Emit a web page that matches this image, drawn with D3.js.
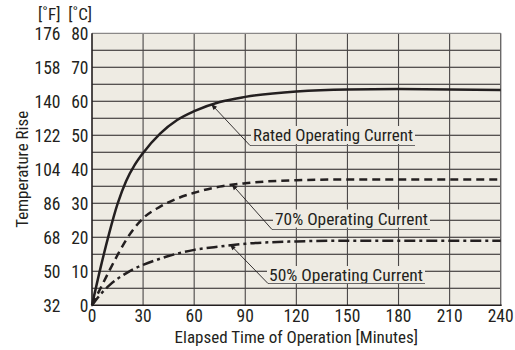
<!DOCTYPE html>
<html><head><meta charset="utf-8">
<script src="https://cdn.jsdelivr.net/npm/d3@7"></script>
<style>
html,body{margin:0;padding:0;background:#fff;}
svg text{font-family:"Liberation Sans Narrow","Arial Narrow","Roboto Condensed",sans-serif;fill:#231f20;}
</style></head>
<body><svg id="c" width="515" height="350"></svg>
<script>
// ---- data ----
const minutes = [0,5,10,15,20,25,30,40,50,60,75,90,120,150,180,210,240];
const rated   = [0,11,21,29.8,36.5,41.2,44.8,50.5,54.5,57.1,59.8,61.3,62.9,63.5,63.6,63.5,63.3];
const pct70   = [0,5,10,14.8,19.2,22.8,25.6,29,31.4,33.1,34.9,35.9,36.8,37,37,37,37];
const pct50   = [0,3.2,5.8,7.8,9.4,10.8,11.9,13.7,15.2,16.3,17.3,18.1,18.8,19,19,19,19];
const xTicks  = [0,30,60,90,120,150,180,210,240];
const cTicks  = [0,10,20,30,40,50,60,70,80];
const fTicks  = ["32","50","68","86","104","122","140","158","176"];
const labels  = ["Rated Operating Current","70% Operating Current","50% Operating Current"];
const arrowAt = [70,82,81]; // minutes where each callout arrow touches its curve

const svg = d3.select("#c");
const x = d3.scaleLinear().domain([0,240]).range([92,500.7]);
const y = d3.scaleLinear().domain([0,80]).range([305.3,33.3]);
const bg = "#eeebe3";

svg.append("rect").attr("x",x(0)).attr("y",y(80)).attr("width",x(240)-x(0)).attr("height",y(0)-y(80)).attr("fill",bg);

// horizontal grid every 5 C
const hg = d3.range(5,80,5);
svg.append("g").selectAll("line").data(hg).join("line")
  .attr("x1",x(0)).attr("x2",x(240)).attr("y1",d=>y(d)).attr("y2",d=>y(d))
  .attr("stroke","#231f20").attr("stroke-width",1.1);
// vertical grid
svg.append("g").selectAll("line").data(xTicks.slice(1,-1)).join("line")
  .attr("x1",d=>x(d)).attr("x2",d=>x(d)).attr("y1",y(0)).attr("y2",y(80))
  .attr("stroke","#4a4747").attr("stroke-width",1.1);
// border
svg.append("line").attr("x1",x(0)).attr("x2",x(240)).attr("y1",y(80)).attr("y2",y(80)).attr("stroke","#8a8888").attr("stroke-width",1.2);
svg.append("line").attr("x1",x(240)).attr("x2",x(240)).attr("y1",y(0)).attr("y2",y(80)).attr("stroke","#6a6868").attr("stroke-width",1.4);
svg.append("line").attr("x1",x(0)).attr("x2",x(0)).attr("y1",y(0)+1).attr("y2",y(80)).attr("stroke","#231f20").attr("stroke-width",1.6);
svg.append("line").attr("x1",x(0)).attr("x2",x(240)+1).attr("y1",y(0)).attr("y2",y(0)).attr("stroke","#231f20").attr("stroke-width",1.6);

// curves
const series = [rated,pct70,pct50];
const dashes = [null,"8,5","11,4,3,4"];
const line = d3.line().curve(d3.curveMonotoneX);
series.forEach((s,i)=>{
  svg.append("path").attr("d",line(minutes.map((m,j)=>[x(m),y(s[j])])))
    .attr("fill","none").attr("stroke","#231f20").attr("stroke-width",2.5)
    .attr("stroke-dasharray",dashes[i]);
});

// arrow marker
svg.append("defs").append("marker").attr("id","ah").attr("viewBox","0 0 10 10")
  .attr("refX",10).attr("refY",5).attr("markerWidth",8).attr("markerHeight",6)
  .attr("markerUnits","userSpaceOnUse").attr("orient","auto")
  .append("path").attr("d","M0,1 L10,5 L0,9 Z").attr("fill","#231f20");

// callouts
const interp = (s,m)=>{ const i=d3.bisectRight(minutes,m)-1; const t=(m-minutes[i])/(minutes[i+1]-minutes[i]); return s[i]+t*(s[i+1]-s[i]); };
const callout = [
  {elbow:[250,145.5], tx:253, ty:135, w:160},
  {elbow:[272,229.5], tx:275, ty:218.5, w:153},
  {elbow:[268,283.5], tx:269, ty:275, w:154}
];
callout.forEach((c,i)=>{
  const tip=[x(arrowAt[i]), y(interp(series[i],arrowAt[i]))-1];
  svg.append("rect").attr("x",c.tx-2).attr("y",c.ty-9).attr("width",c.w+4).attr("height",18).attr("fill",bg);
  svg.append("text").attr("x",c.tx).attr("y",c.ty).attr("dy","0.36em").attr("font-size",17)
    .attr("textLength",c.w).attr("lengthAdjust","spacingAndGlyphs").text(labels[i]);
  svg.append("line").attr("x1",c.elbow[0]).attr("y1",c.elbow[1]).attr("x2",c.tx+c.w+2).attr("y2",c.elbow[1])
    .attr("stroke","#6a6868").attr("stroke-width",1.2);
  svg.append("line").attr("x1",c.elbow[0]).attr("y1",c.elbow[1]).attr("x2",tip[0]).attr("y2",tip[1])
    .attr("stroke","#231f20").attr("stroke-width",0.9).attr("marker-end","url(#ah)");
});

// x tick labels
svg.append("g").selectAll("text").data(xTicks).join("text")
  .attr("x",d=>x(d)).attr("y",316).attr("dy","0.36em").attr("text-anchor","middle").attr("font-size",17.5).text(d=>d);
// y tick labels
svg.append("g").selectAll("text").data(cTicks).join("text")
  .attr("x",88.5).attr("y",d=>y(d)).attr("dy","0.36em").attr("text-anchor","end").attr("font-size",17.5).text(d=>d);
svg.append("g").selectAll("text").data(fTicks).join("text")
  .attr("x",60.5).attr("y",(d,i)=>y(cTicks[i])).attr("dy","0.36em").attr("text-anchor","end").attr("font-size",17.5).text(d=>d);
// unit header
svg.append("text").attr("x",60.5).attr("y",13.5).attr("dy","0.36em").attr("text-anchor","end").attr("font-size",17).text("[˚F]");
svg.append("text").attr("x",92).attr("y",13.5).attr("dy","0.36em").attr("text-anchor","end").attr("font-size",17).text("[˚C]");
// axis titles
svg.append("text").attr("x",(x(0)+x(240))/2).attr("y",337).attr("dy","0.36em").attr("text-anchor","middle").attr("font-size",17)
  .text("Elapsed Time of Operation [Minutes]");
svg.append("text").attr("transform",`translate(21.5,${(y(0)+y(80))/2}) rotate(-90)`).attr("dy","0.36em").attr("text-anchor","middle").attr("font-size",17)
  .text("Temperature Rise");
</script></body></html>
